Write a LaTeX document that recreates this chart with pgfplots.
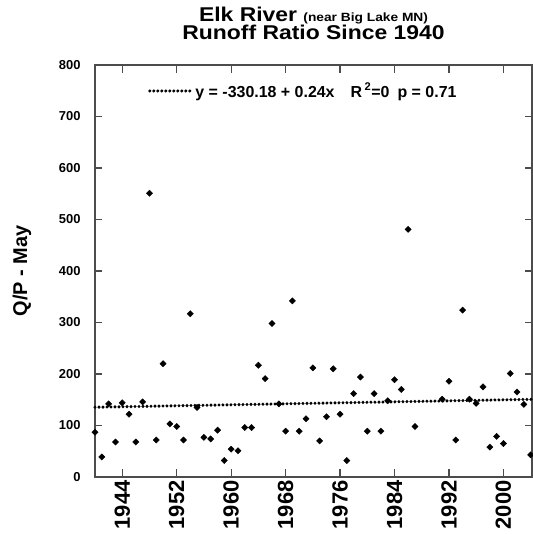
\documentclass[border=0pt]{standalone}
\usepackage{pgfplots}
\usepackage{pgfplotstable}
\pgfplotsset{compat=1.18}
\usepackage{fontspec}
\setmainfont{Liberation Sans}

% May runoff ratio (Q/P) of the Elk River near Big Lake, MN
\pgfplotstableread{
year q
1940 87
1941 39
1942 142
1943 68
1944 144
1945 122
1946 68
1947 146
1948 551
1949 72
1950 220
1951 103
1952 98
1953 72
1954 317
1955 135
1956 77
1957 74
1958 91
1959 32
1960 54
1961 51
1962 96
1963 96
1964 217
1965 191
1966 298
1967 142
1968 89
1969 342
1970 89
1971 113
1972 212
1973 70
1974 117
1975 210
1976 122
1977 32
1978 162
1979 194
1980 89
1981 162
1982 89
1983 148
1984 189
1985 170
1986 481
1987 98
1991 151
1992 186
1993 72
1994 324
1995 151
1996 143
1997 175
1998 58
1999 79
2000 65
2001 201
2002 165
2003 141
2004 43
}\runoff

% end points of the least-squares line y = -330.18 + 0.24x
\pgfplotstableread{
year fit
1940 135.42
2004.2 150.85
}\trend

\begin{document}
\begin{tikzpicture}
\useasboundingbox (0,0) rectangle (533bp,534bp);
\begin{axis}[
  scale only axis,
  width=437bp, height=412bp,
  at={(95bp,57bp)}, anchor=south west,
  xmin=1940, xmax=2004.2,
  ymin=0, ymax=800,
  xtick={1944,1952,...,2000},
  ytick={0,100,...,800},
  tick align=inside,
  major tick length=7.5bp,
  axis line style={draw=black!70, line width=1.4bp},
  tick style={draw=black!70, line width=1.2bp},
  /pgf/number format/assume math mode=true,
  /pgf/number format/set thousands separator={},
  xticklabel style={rotate=90, anchor=east,
    font=\fontsize{22}{22}\selectfont\bfseries},
  yticklabel style={xshift=-11bp,
    font=\fontsize{13}{13}\selectfont\bfseries},
  ylabel={Q/P - May},
  ylabel style={font=\fontsize{20}{20}\selectfont\bfseries,
    at={(axis description cs:-0.167,0.5)}, anchor=center},
  title={\scalebox{1.15}[1]{Elk River {\fontsize{12}{12}\selectfont (near Big Lake MN)}}\\[1bp]
         \scalebox{1.15}[1]{Runoff Ratio Since 1940}},
  title style={at={(0.5,1)}, anchor=south, yshift=18.7bp, align=center,
    inner sep=0pt, font=\fontsize{20}{17.6}\selectfont\bfseries},
  legend style={draw=none, fill=none, at={(0.121,0.937)}, anchor=west,
    inner sep=0pt, font=\fontsize{16}{16}\selectfont\bfseries,
    cells={anchor=west}},
  legend image code/.code={\draw[#1] (0bp,0bp) -- (42bp,0bp);},
  clip=false,
]
\addplot[black, line width=3.4bp, dash pattern=on 0bp off 4bp,
  line cap=round] table[x=year, y=fit] {\trend};
\addlegendentry{y = -330.18 + 0.24x\quad R\,\textsuperscript{2}=0\enspace p = 0.71}
\addplot[only marks, mark=square*, mark size=2.2bp,
  mark options={rotate=45, fill=black, draw=black}]
  table[x=year, y=q] {\runoff};
\end{axis}
\end{tikzpicture}
\end{document}
